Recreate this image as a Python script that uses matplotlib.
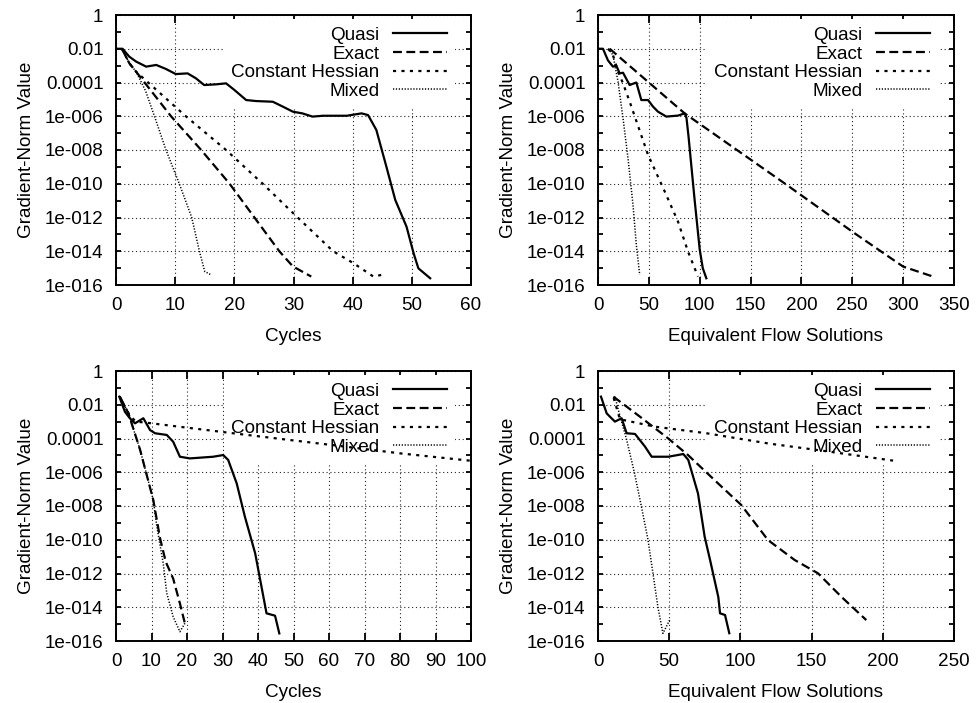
import numpy as np
import matplotlib
matplotlib.use("Agg")
import matplotlib.pyplot as plt
from matplotlib.ticker import FixedLocator, FixedFormatter

plt.rcParams['font.family'] = ['Liberation Sans', 'DejaVu Sans']

# ---------------- data (x, log10 of gradient norm) ----------------
series_names = ["Quasi", "Exact", "Constant Hessian", "Mixed"]

# Panel 1: top-left, Cycles
p1_quasi_x = [0, 1.1, 2.25, 3.4, 5.1, 6.8, 8.45, 10.1, 12.1, 13.5, 14.9, 16.9, 18.6, 20, 22, 23.7, 26.5,
              28.2, 29.9, 31.5, 33.2, 35, 39, 41.5, 42.6, 44, 45.7, 47.2, 49.1, 50.3, 51.1, 53.1]
p1_quasi_log = [-2, -2, -2.47, -2.76, -3.06, -2.96, -3.2, -3.5, -3.46, -3.75, -4.15, -4.11, -4.05, -4.44,
                -5.04, -5.1, -5.14, -5.43, -5.73, -5.83, -6.02, -5.97, -5.97, -5.83, -5.93, -6.81, -8.99,
                -10.96, -12.54, -14.12, -15.01, -15.6]
p1_exact_x = [1, 2.25, 3.4, 9.3, 14.4, 19.2, 23.4, 27.6, 29.9, 33]
p1_exact_log = [-2, -2.86, -3.36, -6, -8, -10, -12, -14, -14.9, -15.5]
p1_const_x = [1, 2.25, 3.4, 11.8, 18.6, 24.8, 30.7, 36.7, 40.1, 43.5, 44.9]
p1_const_log = [-2, -2.86, -3.36, -6, -8, -10, -12, -14, -14.7, -15.5, -15.4]
p1_mixed_x = [1, 2.25, 3.4, 5.0, 6.5, 8.45, 10.7, 12.8, 14.1, 15.0, 16.1]
p1_mixed_log = [-2, -2.86, -3.36, -4.5, -6, -8, -10, -12, -14, -15.2, -15.4]

# Panel 2: top-right, Equivalent Flow Solutions
p2_quasi_x = [0, 4.9, 9.8, 14.7, 18, 21.3, 24.6, 31.1, 37.7, 42.6, 49.2, 54.1, 59, 67.2, 78.7, 85.2,
              87, 89, 95, 100, 103, 106.5]
p2_quasi_log = [-2, -2, -2.69, -3.06, -3.0, -3.46, -3.42, -4.15, -4.0, -5.04, -5.04, -5.43, -5.73, -6.02,
                -5.96, -5.83, -6.1, -7.2, -10.96, -13.9, -15.0, -15.6]
p2_exact_x = [11.5, 85.2, 183.5, 252.4, 300, 329.4]
p2_exact_log = [-2.0, -5.83, -9.98, -12.94, -14.91, -15.5]
p2_const_x = [10, 14.7, 19.7, 24.6, 31.1, 49.2, 65.6, 78.7, 88.5, 98.3]
p2_const_log = [-2, -2.37, -3.36, -4.05, -5.13, -8.29, -10.46, -12.25, -14.02, -15.5]
p2_mixed_x = [10, 14.7, 19.7, 24.6, 29.5, 34.4, 37.7, 41]
p2_mixed_log = [-2, -2.37, -3.95, -6.12, -8.49, -11.25, -13.63, -15.4]

# Panel 3: bottom-left, Cycles
p3_quasi_x = [0.94, 2.5, 3.9, 5.35, 7.7, 9.6, 11, 14.3, 16.1, 18, 20.8, 27.4, 30.2, 31.6, 34, 36.3,
              39.2, 42.4, 44.8, 46]
p3_quasi_log = [-1.52, -2.41, -2.8, -3.1, -2.8, -3.5, -3.69, -3.79, -4.19, -5.08, -5.18, -5.08, -4.98,
                -5.27, -6.66, -8.63, -10.8, -14.36, -14.5, -15.55]
p3_exact_x = [1.1, 3.5, 6.8, 10.5, 12.4, 14, 16.1, 18, 19.4]
p3_exact_log = [-1.52, -2.51, -4.68, -7.64, -9.9, -11.3, -12.3, -13.77, -14.95]
p3_const_x = [1, 3.5, 5.5, 8, 33, 61, 80, 100]
p3_const_log = [-1.52, -2.5, -3.0, -3.05, -3.69, -4.39, -4.88, -5.32]
p3_mixed_x = [1.1, 3.5, 6.8, 10.5, 11.5, 13.3, 14.3, 16.1, 18, 19.4]
p3_mixed_log = [-1.52, -2.51, -4.68, -7.64, -9.2, -11.4, -13.17, -14.56, -15.45, -14.95]

# Panel 4: bottom-right, Equivalent Flow Solutions
p4_quasi_x = [2.1, 6.1, 8.4, 11.9, 16.6, 20.1, 26, 33, 37.7, 49.4, 59.9, 63.4, 70.2, 74.9, 78.7, 84.5,
              85.7, 89.2, 92.2]
p4_quasi_log = [-1.52, -2.51, -2.71, -3.0, -2.8, -3.69, -3.73, -4.48, -5.08, -5.08, -4.92, -5.27, -7.25,
                -9.82, -11.2, -13.4, -14.36, -14.46, -15.54]
p4_exact_x = [10.8, 29.5, 49.2, 63.2, 84.3, 100.6, 119.4, 138.1, 154.5, 170.9, 188.4]
p4_exact_log = [-1.52, -2.71, -3.99, -4.98, -6.66, -7.94, -10.02, -11.2, -11.99, -13.38, -14.76]
p4_const_x = [11, 15.4, 40, 76.3, 120, 160, 207.2]
p4_const_log = [-1.6, -2.86, -3.3, -3.69, -4.3, -4.75, -5.31]
p4_mixed_x = [11.9, 15.5, 19.9, 25.5, 30.4, 35.1, 38.6, 42.1, 45.6, 50.3]
p4_mixed_log = [-1.52, -2.7, -4, -6, -8, -10, -12, -14, -15.55, -14.76]

x_labels = ["Cycles", "Equivalent Flow Solutions", "Cycles", "Equivalent Flow Solutions"]
y_label = "Gradient-Norm Value"
x_ticks = [list(range(0, 61, 10)), list(range(0, 351, 50)),
           list(range(0, 101, 10)), list(range(0, 251, 50))]
y_major_exp = list(range(0, -17, -2))
y_minor_exp = list(range(-1, -16, -2))
y_tick_labels = ["1", "0.01", "0.0001", "1e-006", "1e-008", "1e-010", "1e-012", "1e-014", "1e-016"]

panels = [
    [(p1_quasi_x, p1_quasi_log), (p1_exact_x, p1_exact_log), (p1_const_x, p1_const_log), (p1_mixed_x, p1_mixed_log)],
    [(p2_quasi_x, p2_quasi_log), (p2_exact_x, p2_exact_log), (p2_const_x, p2_const_log), (p2_mixed_x, p2_mixed_log)],
    [(p3_quasi_x, p3_quasi_log), (p3_exact_x, p3_exact_log), (p3_const_x, p3_const_log), (p3_mixed_x, p3_mixed_log)],
    [(p4_quasi_x, p4_quasi_log), (p4_exact_x, p4_exact_log), (p4_const_x, p4_const_log), (p4_mixed_x, p4_mixed_log)],
]

# ---------------- styling ----------------
W, H = 976, 703
fig = plt.figure(figsize=(W / 100, H / 100), dpi=100)

rects_px = [(116, 15, 471, 285), (598, 15, 954, 285), (116, 371, 471, 641), (598, 371, 954, 641)]
styles = [
    dict(color="black", lw=1.6, linestyle="-"),
    dict(color="black", lw=1.6, linestyle=(0, (4, 2))),
    dict(color="black", lw=1.6, linestyle=(0, (1.4, 2.4))),
    dict(color="black", lw=1.1, linestyle=(0, (0.8, 1.1))),
]
FS = 13.6

for i, (l, t, r, b) in enumerate(rects_px):
    ax = fig.add_axes([l / W, (H - b) / H, (r - l) / W, (b - t) / H])
    ax.set_yscale("log")
    for (xs, logs), name, st in zip(panels[i], series_names, styles):
        ax.plot(xs, np.power(10.0, np.array(logs)), label=name, zorder=6,
                solid_joinstyle="round", dash_capstyle="butt", **st)
    ax.set_xlim(x_ticks[i][0], x_ticks[i][-1])
    ax.set_ylim(1e-16, 1)
    ax.xaxis.set_major_locator(FixedLocator(x_ticks[i]))
    ax.set_xticklabels([str(v) for v in x_ticks[i]])
    ax.yaxis.set_major_locator(FixedLocator([10.0 ** e for e in y_major_exp]))
    ax.yaxis.set_major_formatter(FixedFormatter(y_tick_labels))
    ax.yaxis.set_minor_locator(FixedLocator([10.0 ** e for e in y_minor_exp]))
    ax.yaxis.set_minor_formatter(FixedFormatter([""] * len(y_minor_exp)))
    ax.tick_params(axis="both", which="both", direction="in", top=True, right=True,
                   width=1.3, labelsize=FS, colors="black")
    ax.tick_params(axis="x", which="major", length=5.8, pad=9)
    ax.tick_params(axis="y", which="both", length=3.8, pad=9)
    ax.grid(True, which="major", color="0.15", lw=0.8, linestyle=(0, (1, 2.5)))
    for sp in ax.spines.values():
        sp.set_linewidth(1.4)
    ax.set_xlabel(x_labels[i], fontsize=FS, labelpad=10)
    ax.set_ylabel(y_label, fontsize=FS, labelpad=7)
    leg = ax.legend(loc="upper right", bbox_to_anchor=(0.955, 0.985), borderaxespad=0,
                    borderpad=0.4, markerfirst=False, frameon=True, fancybox=False,
                    framealpha=1, edgecolor="none", facecolor="white", fontsize=FS,
                    handlelength=2.9, handletextpad=0.7, labelspacing=0.08)
    leg.set_zorder(5)

fig.savefig("out.png", dpi=100)
